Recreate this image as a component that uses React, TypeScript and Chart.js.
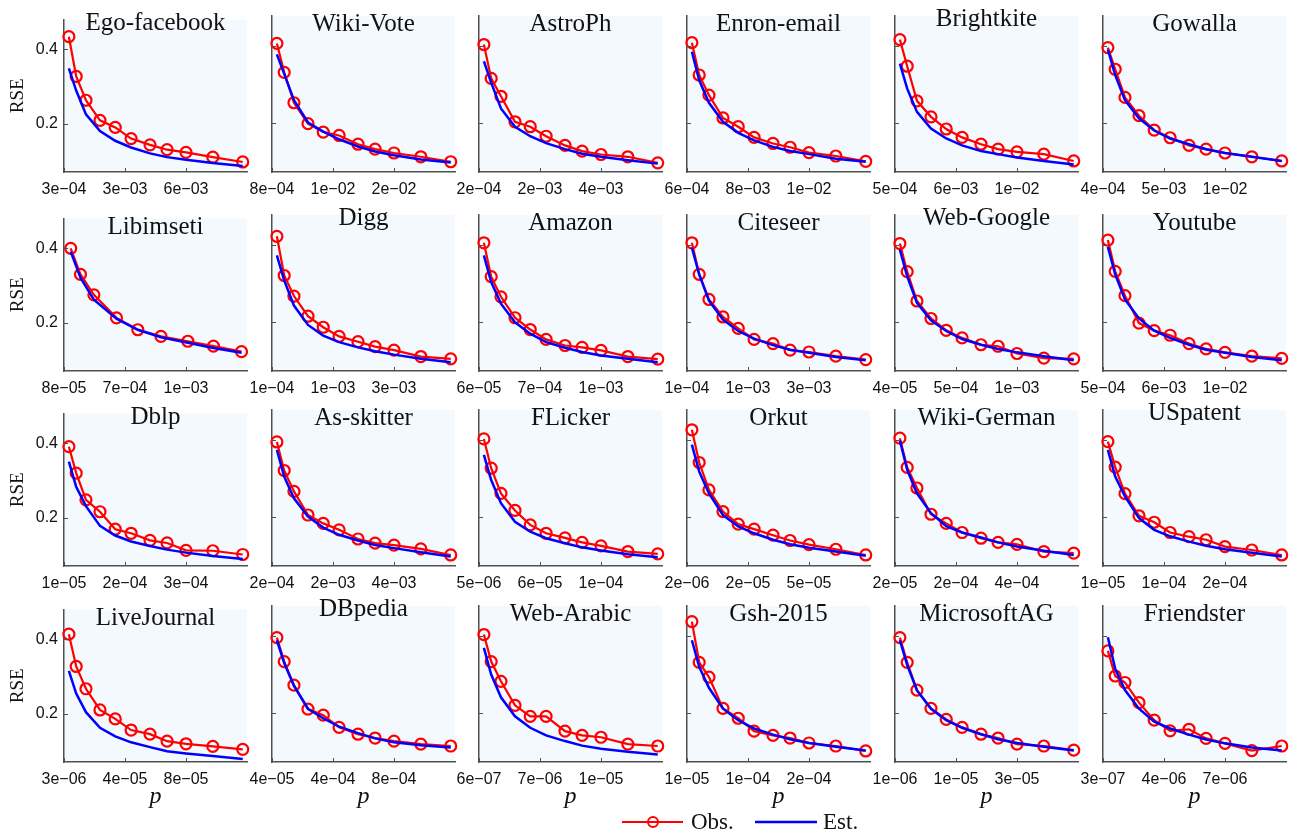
import React, { useEffect, useRef } from 'react';
import { Chart, registerables } from 'chart.js';

Chart.register(...registerables);

// ---------------- data ----------------
const NAMES = [
  'Ego-facebook', 'Wiki-Vote', 'AstroPh', 'Enron-email', 'Brightkite', 'Gowalla',
  'Libimseti', 'Digg', 'Amazon', 'Citeseer', 'Web-Google', 'Youtube',
  'Dblp', 'As-skitter', 'FLicker', 'Orkut', 'Wiki-German', 'USpatent',
  'LiveJournal', 'DBpedia', 'Web-Arabic', 'Gsh-2015', 'MicrosoftAG', 'Friendster',
];

// tick labels at the three x ticks of each panel
const TICK_LABELS = [
  ['3e−04', '3e−03', '6e−03'], ['8e−04', '1e−02', '2e−02'], ['2e−04', '2e−03', '4e−03'],
  ['6e−04', '8e−03', '1e−02'], ['5e−04', '6e−03', '1e−02'], ['4e−04', '5e−03', '1e−02'],
  ['8e−05', '7e−04', '1e−03'], ['1e−04', '1e−03', '3e−03'], ['6e−05', '7e−04', '1e−03'],
  ['1e−04', '1e−03', '3e−03'], ['4e−05', '5e−04', '1e−03'], ['5e−04', '6e−03', '1e−02'],
  ['1e−05', '2e−04', '3e−04'], ['2e−04', '2e−03', '4e−03'], ['5e−06', '6e−05', '1e−04'],
  ['2e−06', '2e−05', '5e−05'], ['2e−05', '2e−04', '4e−04'], ['1e−05', '1e−04', '2e−04'],
  ['3e−06', '4e−05', '8e−05'], ['4e−05', '4e−04', '8e−04'], ['6e−07', '7e−06', '1e−05'],
  ['1e−05', '1e−04', '2e−04'], ['1e−06', '1e−05', '3e−05'], ['3e−07', '4e−06', '7e−06'],
];

// sampling positions, in units of the x tick spacing (first tick = 0)
const X_STD = [0.08, 0.20, 0.36, 0.59, 0.84, 1.10, 1.41, 1.69, 2.00, 2.44, 2.93];
const X_LIB = [0.11, 0.27, 0.49, 0.86, 1.21, 1.59, 2.03, 2.45, 2.91];

// observed RSE (red, circles)
const OBS = [
  [0.434, 0.327, 0.263, 0.209, 0.190, 0.160, 0.143, 0.130, 0.123, 0.110, 0.097], // Ego-facebook
  [0.408, 0.332, 0.252, 0.197, 0.175, 0.166, 0.143, 0.130, 0.120, 0.110, 0.097], // Wiki-Vote
  [0.405, 0.316, 0.269, 0.202, 0.189, 0.164, 0.140, 0.125, 0.116, 0.110, 0.094], // AstroPh
  [0.410, 0.325, 0.272, 0.212, 0.189, 0.161, 0.145, 0.135, 0.121, 0.112, 0.098], // Enron-email
  [0.418, 0.348, 0.257, 0.215, 0.183, 0.161, 0.143, 0.130, 0.123, 0.117, 0.099], // Brightkite
  [0.397, 0.340, 0.266, 0.218, 0.180, 0.160, 0.140, 0.130, 0.120, 0.110, 0.099], // Gowalla
  [0.400, 0.330, 0.275, 0.213, 0.181, 0.163, 0.150, 0.137, 0.122], // Libimseti
  [0.424, 0.321, 0.267, 0.214, 0.185, 0.161, 0.147, 0.134, 0.125, 0.108, 0.102], // Digg
  [0.407, 0.318, 0.265, 0.210, 0.179, 0.153, 0.137, 0.132, 0.124, 0.108, 0.101], // Amazon
  [0.407, 0.324, 0.258, 0.212, 0.182, 0.153, 0.142, 0.125, 0.120, 0.109, 0.100], // Citeseer
  [0.405, 0.331, 0.254, 0.208, 0.177, 0.157, 0.139, 0.135, 0.116, 0.104, 0.102], // Web-Google
  [0.414, 0.332, 0.268, 0.196, 0.176, 0.164, 0.142, 0.128, 0.119, 0.109, 0.103], // Youtube
  [0.391, 0.320, 0.248, 0.216, 0.169, 0.158, 0.139, 0.132, 0.112, 0.111, 0.101], // Dblp
  [0.396, 0.321, 0.266, 0.204, 0.182, 0.165, 0.141, 0.130, 0.125, 0.115, 0.099], // As-skitter
  [0.404, 0.327, 0.261, 0.216, 0.178, 0.156, 0.144, 0.132, 0.123, 0.108, 0.102], // FLicker
  [0.428, 0.342, 0.270, 0.213, 0.180, 0.167, 0.151, 0.137, 0.126, 0.114, 0.099], // Orkut
  [0.406, 0.329, 0.275, 0.206, 0.182, 0.158, 0.143, 0.132, 0.127, 0.108, 0.104], // Wiki-German
  [0.397, 0.330, 0.260, 0.202, 0.185, 0.158, 0.147, 0.139, 0.121, 0.112, 0.099], // USpatent
  [0.414, 0.327, 0.267, 0.210, 0.186, 0.156, 0.145, 0.126, 0.119, 0.112, 0.104], // LiveJournal
  [0.397, 0.334, 0.272, 0.209, 0.193, 0.161, 0.143, 0.133, 0.125, 0.117, 0.112], // DBpedia
  [0.405, 0.334, 0.282, 0.219, 0.190, 0.190, 0.151, 0.140, 0.135, 0.117, 0.112], // Web-Arabic
  [0.439, 0.332, 0.293, 0.211, 0.185, 0.151, 0.140, 0.133, 0.120, 0.112, 0.099], // Gsh-2015
  [0.397, 0.332, 0.259, 0.211, 0.182, 0.161, 0.143, 0.133, 0.117, 0.112, 0.101], // MicrosoftAG
  [0.362, 0.296, 0.279, 0.226, 0.180, 0.152, 0.156, 0.132, 0.119, 0.100, 0.112], // Friendster
];

// estimated RSE (blue line)
const EST = [
  [0.349, 0.289, 0.225, 0.180, 0.154, 0.136, 0.120, 0.110, 0.103, 0.094, 0.086], // Ego-facebook
  [0.379, 0.328, 0.259, 0.200, 0.176, 0.156, 0.137, 0.124, 0.114, 0.103, 0.095], // Wiki-Vote
  [0.361, 0.305, 0.237, 0.189, 0.164, 0.146, 0.130, 0.118, 0.110, 0.101, 0.092], // AstroPh
  [0.386, 0.311, 0.252, 0.202, 0.173, 0.153, 0.136, 0.125, 0.117, 0.105, 0.097], // Enron-email
  [0.355, 0.289, 0.228, 0.184, 0.158, 0.140, 0.125, 0.117, 0.108, 0.099, 0.090], // Brightkite
  [0.392, 0.325, 0.259, 0.211, 0.179, 0.158, 0.143, 0.130, 0.120, 0.110, 0.099], // Gowalla
  [0.391, 0.321, 0.262, 0.211, 0.181, 0.161, 0.146, 0.132, 0.119], // Libimseti
  [0.374, 0.308, 0.242, 0.191, 0.163, 0.146, 0.132, 0.122, 0.113, 0.102, 0.093], // Digg
  [0.374, 0.304, 0.247, 0.198, 0.168, 0.146, 0.131, 0.120, 0.111, 0.102, 0.093], // Amazon
  [0.394, 0.324, 0.255, 0.205, 0.175, 0.155, 0.138, 0.126, 0.118, 0.107, 0.098], // Citeseer
  [0.389, 0.319, 0.249, 0.203, 0.175, 0.154, 0.139, 0.128, 0.119, 0.109, 0.098], // Web-Google
  [0.396, 0.324, 0.258, 0.208, 0.176, 0.157, 0.139, 0.126, 0.118, 0.107, 0.098], // Youtube
  [0.351, 0.283, 0.231, 0.178, 0.152, 0.136, 0.124, 0.114, 0.106, 0.097, 0.089], // Dblp
  [0.375, 0.305, 0.248, 0.200, 0.171, 0.152, 0.137, 0.125, 0.117, 0.106, 0.095], // As-skitter
  [0.362, 0.296, 0.235, 0.186, 0.160, 0.143, 0.130, 0.119, 0.111, 0.101, 0.093], // FLicker
  [0.389, 0.318, 0.261, 0.204, 0.174, 0.156, 0.139, 0.127, 0.118, 0.108, 0.097], // Orkut
  [0.400, 0.323, 0.261, 0.209, 0.175, 0.158, 0.145, 0.132, 0.121, 0.110, 0.099], // Wiki-German
  [0.375, 0.305, 0.253, 0.196, 0.165, 0.148, 0.134, 0.123, 0.114, 0.105, 0.095], // USpatent
  [0.315, 0.254, 0.204, 0.162, 0.139, 0.123, 0.110, 0.099, 0.093, 0.086, 0.078], // LiveJournal
  [0.390, 0.330, 0.270, 0.210, 0.185, 0.163, 0.146, 0.132, 0.122, 0.114, 0.108], // DBpedia
  [0.370, 0.300, 0.240, 0.190, 0.160, 0.140, 0.125, 0.113, 0.105, 0.097, 0.090], // Web-Arabic
  [0.390, 0.320, 0.265, 0.210, 0.180, 0.158, 0.142, 0.130, 0.120, 0.110, 0.100], // Gsh-2015
  [0.390, 0.325, 0.258, 0.210, 0.180, 0.160, 0.143, 0.130, 0.120, 0.110, 0.100], // MicrosoftAG
  [0.398, 0.315, 0.259, 0.210, 0.176, 0.158, 0.142, 0.129, 0.119, 0.108, 0.100], // Friendster
];

const Y_TICKS = [0.2, 0.4];
const X_TICKS = [0, 1, 2];

// ---------------- style / layout ----------------
const SERIF = '"Liberation Serif", "DejaVu Serif", serif';
const SANS = '"Liberation Sans", Arial, sans-serif';
const BG = '#f3f9fd';
const AXIS = '#505050';
const RED = '#ff0000';
const BLUE = '#0000ff';
const TXT = '#111111';

const COL_X = [64, 272, 479, 687, 895, 1103];
const ROW_Y = [16, 215, 410, 606];
const PLOT_W = 183;
const PLOT_H = 156;
const PAD_L = 60;
const PAD_T = 12;
const PAD_R = 12;
const PAD_B = 48;

const decor = {
  id: 'decor',
  beforeDraw(chart: any) {
    const { ctx, chartArea: a } = chart;
    ctx.save();
    ctx.fillStyle = BG;
    ctx.fillRect(a.left, a.top, a.right - a.left, a.bottom - a.top);
    ctx.restore();
  },
  afterDraw(chart: any, _args: any, opts: any) {
    const { ctx, chartArea: a, scales } = chart;
    ctx.save();
    ctx.strokeStyle = AXIS;
    ctx.lineWidth = 1;
    for (const t of scales.x.ticks) {
      const px = Math.round(scales.x.getPixelForValue(t.value)) + 0.5;
      ctx.beginPath();
      ctx.moveTo(px, a.bottom);
      ctx.lineTo(px, a.bottom - 4);
      ctx.stroke();
    }
    for (const t of scales.y.ticks) {
      const py = Math.round(scales.y.getPixelForValue(t.value)) + 0.5;
      ctx.beginPath();
      ctx.moveTo(a.left, py);
      ctx.lineTo(a.left + 4, py);
      ctx.stroke();
    }
    // panel title, bottom of text box near top of plot
    ctx.fillStyle = TXT;
    ctx.font = `25px ${SERIF}`;
    ctx.textAlign = 'center';
    ctx.textBaseline = 'alphabetic';
    const m = ctx.measureText(opts.title);
    const desc = Math.max(0, m.actualBoundingBoxDescent || 0);
    ctx.fillText(opts.title, (a.left + a.right) / 2, a.top + 15 - desc);
    if (opts.showP) {
      ctx.font = `italic 24px ${SERIF}`;
      ctx.fillText('p', (a.left + a.right) / 2, a.bottom + 41);
    }
    ctx.restore();
  },
};

function Panel({ idx }: { idx: number }) {
  const ref = useRef<HTMLCanvasElement>(null);
  const r = Math.floor(idx / 6);
  const c = idx % 6;
  const W = PAD_L + PLOT_W + PAD_R;
  const H = PAD_T + PLOT_H + PAD_B;

  useEffect(() => {
    const xs = OBS[idx].length === X_LIB.length ? X_LIB : X_STD;
    const obs = OBS[idx].map((y, i) => ({ x: xs[i], y }));
    const est = EST[idx].map((y, i) => ({ x: xs[i], y }));
    const labels = TICK_LABELS[idx];
    const chart = new Chart(ref.current as HTMLCanvasElement, {
      type: 'line',
      data: {
        datasets: [
          {
            label: 'Est.',
            data: est,
            borderColor: BLUE,
            backgroundColor: BLUE,
            borderWidth: 2.5,
            pointRadius: 0,
            tension: 0,
            clip: false,
          } as any,
          {
            label: 'Obs.',
            data: obs,
            borderColor: RED,
            backgroundColor: 'rgba(0,0,0,0)',
            borderWidth: 2.2,
            pointRadius: 5.5,
            pointBorderWidth: 2.2,
            pointBorderColor: RED,
            pointBackgroundColor: 'rgba(0,0,0,0)',
            tension: 0,
            clip: false,
          } as any,
        ],
      },
      options: {
        animation: false,
        responsive: false,
        events: [],
        layout: { padding: { left: 0, top: PAD_T, right: PAD_R, bottom: 0 } },
        plugins: {
          legend: { display: false },
          tooltip: { enabled: false },
          decor: { title: NAMES[idx], showP: r === 3 },
        } as any,
        scales: {
          x: {
            type: 'linear',
            min: 0,
            max: 3,
            grid: { display: false, drawTicks: false },
            border: { display: true, color: AXIS, width: 1.5 },
            afterBuildTicks: (s: any) => {
              s.ticks = X_TICKS.map((v) => ({ value: v }));
            },
            afterFit: (s: any) => {
              s.height = PAD_B;
            },
            ticks: {
              callback: (_v: any, i: number) => labels[i] ?? '',
              font: { family: SANS, size: 16 },
              color: TXT,
              padding: 8,
              maxRotation: 0,
              autoSkip: false,
            },
          },
          y: {
            type: 'linear',
            min: 0.07,
            max: 0.48,
            grid: { display: false, drawTicks: false },
            border: { display: true, color: AXIS, width: 1.5 },
            afterBuildTicks: (s: any) => {
              s.ticks = Y_TICKS.map((v) => ({ value: v }));
            },
            afterFit: (s: any) => {
              s.width = PAD_L;
            },
            ticks: {
              display: c === 0,
              callback: (v: any) => Number(v).toFixed(1),
              font: { family: SANS, size: 16 },
              color: TXT,
              padding: 6,
            },
            title: {
              display: c === 0,
              text: 'RSE',
              font: { family: SERIF, size: 19 },
              color: TXT,
              padding: { top: 3, bottom: 0 },
            },
          },
        } as any,
      },
      plugins: [decor],
    });
    return () => chart.destroy();
  }, [idx]);

  return (
    <canvas
      ref={ref}
      width={W}
      height={H}
      style={{
        position: 'absolute',
        left: COL_X[c] - PAD_L,
        top: ROW_Y[r] - PAD_T,
        width: W,
        height: H,
      }}
    />
  );
}

export default function App() {
  return (
    <div
      style={{
        position: 'absolute',
        left: 0,
        top: 0,
        width: 1291,
        height: 835,
        background: '#ffffff',
        overflow: 'hidden',
      }}
    >
      {NAMES.map((_, i) => (
        <Panel key={i} idx={i} />
      ))}
      <svg
        width={1291}
        height={835}
        style={{ position: 'absolute', left: 0, top: 0, pointerEvents: 'none' }}
      >
        <line x1={622} y1={822} x2={683} y2={822} stroke={RED} strokeWidth={2} />
        <circle cx={653} cy={822} r={5} fill="none" stroke={RED} strokeWidth={2} />
        <text x={691} y={829} fontFamily={SERIF} fontSize={23} fill={TXT}>
          Obs.
        </text>
        <line x1={755} y1={822} x2={817} y2={822} stroke={BLUE} strokeWidth={2.5} />
        <text x={823} y={829} fontFamily={SERIF} fontSize={23} fill={TXT}>
          Est.
        </text>
      </svg>
    </div>
  );
}
